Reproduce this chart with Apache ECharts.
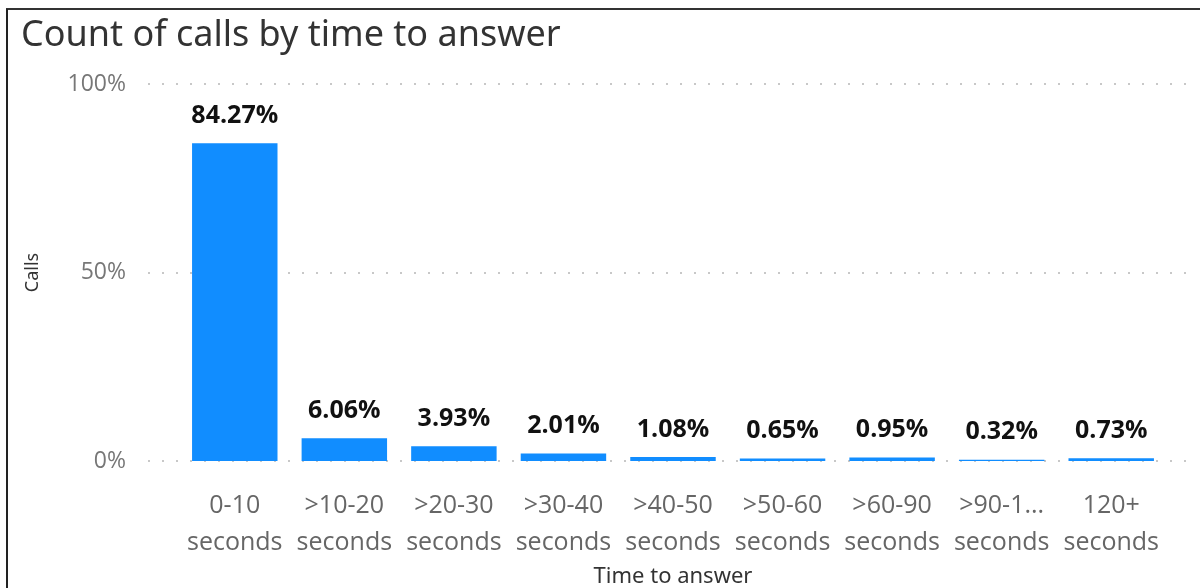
<!DOCTYPE html>
<html>
<head>
<meta charset="utf-8">
<script src="https://cdn.jsdelivr.net/npm/echarts@6/dist/echarts.min.js"></script>
<style>
html,body{margin:0;padding:0;background:#fff;}
#chart{width:1200px;height:588px;}
</style>
</head>
<body>
<div id="chart"></div>
<script>
const categories = ["0-10\nseconds", ">10-20\nseconds", ">20-30\nseconds", ">30-40\nseconds", ">40-50\nseconds", ">50-60\nseconds", ">60-90\nseconds", ">90-1...\nseconds", "120+\nseconds"];
const callsPct = [84.27, 6.06, 3.93, 2.01, 1.08, 0.65, 0.95, 0.32, 0.73];
const yTicks = [0, 50, 100];

const chart = echarts.init(document.getElementById('chart'));
const font = '"Open Sans", "Segoe UI", sans-serif';
chart.setOption({
  animation: false,
  backgroundColor: '#fff',
  title: {
    text: 'Count of calls by time to answer',
    left: 16, top: 13,
    textStyle: { fontFamily: '"Noto Sans", sans-serif', fontSize: 36, fontWeight: 'normal', color: '#333' }
  },
  graphic: [
    { type: 'line', shape: { x1: 6, y1: 9, x2: 1200, y2: 9 }, style: { stroke: '#333', lineWidth: 2 } },
    { type: 'line', shape: { x1: 7, y1: 9, x2: 7, y2: 588 }, style: { stroke: '#222', lineWidth: 2 } }
  ],
  grid: [
    { left: 148, right: 4, top: 84, bottom: 127, containLabel: false, outerBoundsMode: 'none' },
    { left: 180, right: 34, top: 84, bottom: 127, containLabel: false, outerBoundsMode: 'none' }
  ],
  xAxis: [
    { gridIndex: 0, type: 'value', show: false, min: 0, max: 1 },
    {
      gridIndex: 1, type: 'category', data: categories,
      axisLine: { show: false }, axisTick: { show: false },
      axisLabel: { color: '#666', fontFamily: font, fontSize: 25, lineHeight: 37, margin: 26, interval: 0 },
      name: 'Time to answer', nameLocation: 'middle', nameGap: 99,
      nameTextStyle: { color: '#333', fontFamily: '"Noto Sans", sans-serif', fontSize: 22 }
    }
  ],
  yAxis: [
    {
      gridIndex: 0, type: 'value', min: 0, max: 100, interval: 50,
      axisLine: { show: false }, axisTick: { show: false },
      axisLabel: { color: '#777', fontFamily: font, fontSize: 23, margin: 22,
        formatter: v => yTicks.includes(v) ? v + '%' : '' },
      splitLine: { show: true, lineStyle: { color: '#c8c8c8', width: 2, type: [2, 12] } },
      name: 'Calls', nameLocation: 'middle', nameGap: 106,
      nameTextStyle: { color: '#333', fontFamily: '"Noto Sans", sans-serif', fontSize: 18 }
    },
    { gridIndex: 1, type: 'value', min: 0, max: 100, show: false }
  ],
  series: [{
    type: 'bar', xAxisIndex: 1, yAxisIndex: 1,
    data: callsPct,
    barCategoryGap: '22%',
    itemStyle: { color: '#118DFF' },
    label: {
      show: true, position: 'top', distance: 15,
      formatter: p => p.value.toFixed(2) + '%',
      color: '#111', fontFamily: font, fontWeight: 'bold', fontSize: 25
    }
  }]
});
</script>
</body>
</html>
